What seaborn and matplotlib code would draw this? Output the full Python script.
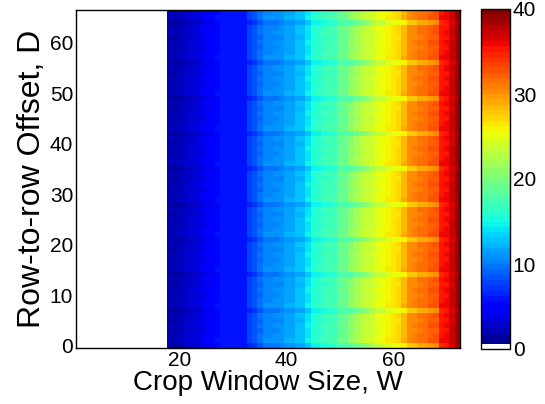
import numpy as np
import pandas as pd
import matplotlib
matplotlib.use("Agg")
import matplotlib.pyplot as plt
from matplotlib.colors import ListedColormap
import seaborn as sns

sns.set_theme(style="white")
plt.rcParams['font.family'] = ['Liberation Sans', 'DejaVu Sans']

# crop window sizes W and row offsets D
window_sizes = list(range(1, 73))
row_offsets = list(range(0, 67))

# first W with a non-zero value; below this everything is 0 (white)
first_w = 18

# column level for W = 18..72
col_level = [1.8, 2.0, 2.2, 2.8, 3.0, 3.4, 3.8, 4.4, 4.6, 5.4,
             5.9, 5.9, 5.9, 5.9, 5.9, 7.8, 8.4, 9.4, 10.4, 10.4,
             10.6, 10.8, 11.6, 11.6, 12.6, 12.6, 14.2, 15.8, 16.0, 16.8,
             17.0, 17.2, 18.8, 19.0, 20.5, 21.8, 22.8, 23.5, 23.8, 25.0,
             25.2, 26.0, 26.5, 27.0, 28.5, 30.3, 30.5, 31.3, 31.5, 32.3,
             32.5, 35.4, 35.6, 37.0, 39.0]

# change at the horizontal stripe rows, W = 18..72
stripe_drop = [-0.4, -0.4, -0.4, -0.4, -0.4, -0.4, -0.4, -0.4, -0.4,
               -0.2, -0.2, -0.2, -0.2, -0.2, -0.2,
               -1.2, -1.2, -1.2,
               -0.8, -0.8, -0.8, -0.8, -0.8, -0.8, -0.8, -0.8,
               -1.2, -1.2, -1.2, -1.2, -1.2, -1.2, -1.2, -1.2,
               -3.0, -3.0, -3.0, -3.0,
               -1.5, -1.5, -1.5, -1.5, -1.5, -1.5,
               -2.5, -2.5, -2.5, -2.5, -2.5, -2.5, -2.5,
               -0.6, -0.6, -0.6, -0.6]

# rows D where the stripes sit, and the small ripple between them
stripe_rows = [0, 7, 14, 21, 28, 35, 42, 49, 56, 64]
ripple = [0.0, 0.3, 0.15, -0.1, 0.2, -0.2, 0.1, 0.0]

grid = np.zeros((len(row_offsets), len(window_sizes)))
for i, d in enumerate(row_offsets):
    last = max(s for s in stripe_rows if s <= d)
    phase = d - last
    for k, w in enumerate(window_sizes):
        if w < first_w:
            continue
        j = w - first_w
        v = col_level[j] + ripple[phase]
        if phase == 0:
            v += stripe_drop[j]
        grid[i, k] = v

df = pd.DataFrame(grid, index=row_offsets, columns=window_sizes)

colors = plt.get_cmap('jet', 64)(np.arange(64))
colors[0] = [1, 1, 1, 1]
cmap = ListedColormap(colors)

fig = plt.figure(figsize=(5.45, 4.04), dpi=100)
ax = fig.add_axes([76 / 545, 56 / 404, 384 / 545, 338 / 404])
cax = fig.add_axes([481 / 545, 55 / 404, 29 / 545, 340 / 404])

sns.heatmap(df, ax=ax, cbar_ax=cax, cmap=cmap, vmin=0, vmax=40,
            xticklabels=False, yticklabels=False)
ax.invert_yaxis()

xt = [20, 40, 60]
ax.set_xticks([window_sizes.index(w) + 0.5 for w in xt])
ax.set_xticklabels([str(w) for w in xt], rotation=0)
yt = [0, 10, 20, 30, 40, 50, 60]
ax.set_yticks([row_offsets.index(d) + 0.5 for d in yt])
ax.set_yticklabels([str(d) for d in yt], rotation=0)

for s in ax.spines.values():
    s.set_visible(True)
    s.set_color('black')
    s.set_linewidth(1.0)
ax.tick_params(direction='in', length=4, width=0.8, color='black',
               top=True, right=True, bottom=True, left=True,
               labelsize=15, labelcolor='black', pad=2)

ax.set_xlabel("Crop Window Size, W", fontsize=20, color='black', labelpad=0)
ax.set_ylabel("Row-to-row Offset, D", fontsize=23, color='black', labelpad=2)

cb = ax.collections[0].colorbar
cb.outline.set_linewidth(1.0)
cb.outline.set_edgecolor('black')
cb.set_ticks([0, 10, 20, 30, 40])
cax.tick_params(direction='in', length=3, width=0.8, color='black',
                left=True, right=True, labelsize=15, labelcolor='black', pad=2)

fig.savefig("out.png", dpi=100)
